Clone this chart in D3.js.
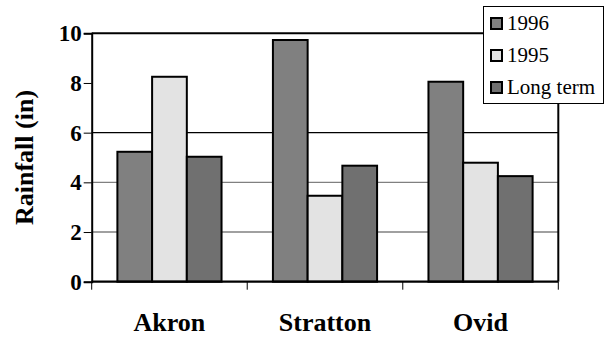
<html>
<head>
<meta charset="utf-8">
<script src="https://cdn.jsdelivr.net/npm/d3@7"></script>
</head>
<body style="margin:0">
<svg id="rainplot" width="604" height="337"></svg>
<script>
// Rainfall by site
const sites = ["Akron", "Stratton", "Ovid"];
const seriesNames = ["1996", "1995", "Long term"];
const rain1996 = [5.23, 9.73, 8.05];
const rain1995 = [8.25, 3.46, 4.79];
const rainLongTerm = [5.03, 4.67, 4.25];
const yTicks = [0, 2, 4, 6, 8, 10];
const gridValues = [2, 4, 6];
const seriesColors = ["#808080", "#e3e3e3", "#707070"];

// inline serif styling for every label
function serif(sel, size, bold) {
  sel.attr("style", `font-family: 'Liberation Serif' !important; font-size: ${size}px; font-weight: ${bold ? 700 : 400};`);
}

const seriesValues = [rain1996, rain1995, rainLongTerm];
const rows = sites.map((s, i) => ({
  site: s,
  values: seriesNames.map((n, j) => ({ name: n, value: seriesValues[j][i], color: seriesColors[j] }))
}));

const svg = d3.select("#rainplot");
const plotLeft = 91.7, plotRight = 558.3, plotTop = 33.3, plotBottom = 281.7;

const x0 = d3.scaleBand().domain(sites).range([plotLeft, plotRight]).padding(0);
const x1 = d3.scaleBand().domain(seriesNames).range([0, x0.bandwidth()])
  .paddingInner(0).paddingOuter(0.74);
const y = d3.scaleLinear().domain([0, 10]).range([plotBottom, plotTop]);

// gridlines
svg.append("g").selectAll("line").data(gridValues).join("line")
  .attr("x1", plotLeft).attr("x2", plotRight)
  .attr("y1", d => y(d)).attr("y2", d => y(d))
  .attr("stroke", d => d === 6 ? "#000" : "#808080")
  .attr("stroke-width", 1.3);

// top and right frame
svg.append("line").attr("x1", plotLeft).attr("x2", plotRight).attr("y1", y(10)).attr("y2", y(10))
  .attr("stroke", "#000").attr("stroke-width", 2);
svg.append("line").attr("x1", plotRight).attr("x2", plotRight).attr("y1", y(10)).attr("y2", plotBottom)
  .attr("stroke", "#000").attr("stroke-width", 2);

// bars
const groups = svg.append("g").selectAll("g").data(rows).join("g")
  .attr("transform", d => `translate(${x0(d.site)},0)`);
groups.selectAll("rect").data(d => d.values).join("rect")
  .attr("x", d => x1(d.name))
  .attr("y", d => y(d.value))
  .attr("width", x1.bandwidth())
  .attr("height", d => plotBottom - y(d.value))
  .attr("fill", d => d.color)
  .attr("stroke", "#000")
  .attr("stroke-width", 2);

// y axis
const yAxis = svg.append("g").attr("transform", `translate(${plotLeft},0)`)
  .call(d3.axisLeft(y).tickValues(yTicks).tickSize(8).tickPadding(2).tickFormat(d3.format("d")));
yAxis.attr("font-family", null).attr("font-size", null);
yAxis.select(".domain").attr("stroke", "#000").attr("stroke-width", 2);
yAxis.selectAll(".tick line").attr("stroke", "#000").attr("stroke-width", 1);
yAxis.selectAll(".tick text").attr("fill", "#000").call(serif, 23, true);

// x baseline and category boundary ticks
svg.append("line").attr("x1", plotLeft).attr("x2", plotRight).attr("y1", plotBottom).attr("y2", plotBottom)
  .attr("stroke", "#000").attr("stroke-width", 2.2);
const boundaries = sites.map(s => x0(s)).concat([plotRight]);
svg.append("g").selectAll("line").data(boundaries).join("line")
  .attr("x1", d => d).attr("x2", d => d)
  .attr("y1", plotBottom).attr("y2", plotBottom + 8)
  .attr("stroke", "#000").attr("stroke-width", 1);

// category labels
svg.append("g").selectAll("text").data(sites).join("text")
  .attr("x", d => x0(d) + x0.bandwidth() / 2)
  .attr("y", 331)
  .attr("text-anchor", "middle")
  .call(serif, 26, true)
  .text(d => d);

// y axis title
svg.append("text")
  .attr("transform", `translate(33,${(plotTop + plotBottom) / 2}) rotate(-90)`)
  .attr("text-anchor", "middle")
  .call(serif, 26, true)
  .text("Rainfall (in)");

// legend
const legend = svg.append("g");
legend.append("rect").attr("x", 483.5).attr("y", 6.5).attr("width", 120).attr("height", 97)
  .attr("fill", "#fff").attr("stroke", "#000").attr("stroke-width", 1);
const items = legend.selectAll("g").data(seriesNames).join("g")
  .attr("transform", (d, i) => `translate(0,${i * 32})`);
items.append("rect").attr("x", 491).attr("y", 18).attr("width", 11).attr("height", 11)
  .attr("fill", (d, i) => seriesColors[i]).attr("stroke", "#000").attr("stroke-width", 2);
items.append("text").attr("x", 507).attr("y", 30)
  .call(serif, 21, false)
  .text(d => d);
</script>
</body>
</html>
